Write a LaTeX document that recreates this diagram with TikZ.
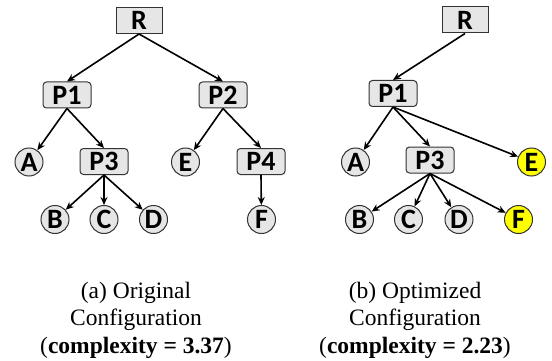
\documentclass[tikz,border=0pt]{standalone}
\usepackage{fontspec}
\setmainfont{Liberation Serif}
\newfontfamily\nodefont{Carlito}
\usetikzlibrary{arrows.meta}
\definecolor{nodegray}{HTML}{E6E6E6}
\definecolor{hiyellow}{HTML}{FFFF00}
\tikzset{
  rootbox/.style={draw=black!80, line width=1pt, fill=nodegray, minimum width=46pt, minimum height=26pt, inner sep=0pt, font=\nodefont\bfseries\fontsize{28}{28}\selectfont},
  pbox/.style={rootbox, rounded corners=3.5pt, minimum width=48pt},
  leaf/.style={circle, draw=black!80, line width=1pt, fill=nodegray, minimum size=28pt, inner sep=0pt, font=\nodefont\bfseries\fontsize{28}{28}\selectfont},
  hileaf/.style={leaf, fill=hiyellow},
  arr/.style={-{Stealth[length=8pt,width=7pt]}, line width=1.6pt},
  captext/.style={align=center, font=\fontsize{23.5}{27.5}\selectfont}
}
\begin{document}
\begin{tikzpicture}[x=1pt,y=-1pt]
\path[use as bounding box] (0,0) rectangle (552,361);
% left tree
\node[rootbox] (R) at (139,20.5) {R};
\node[pbox] (P1) at (67,95) {P1};
\node[pbox] (P2) at (223,95) {P2};
\node[leaf] (A) at (29,162) {A};
\node[pbox] (P3) at (104,161.5) {P3};
\node[leaf] (E) at (185.5,162) {E};
\node[pbox] (P4) at (261,161.5) {P4};
\node[leaf] (B) at (55,219.5) {B};
\node[leaf] (C) at (104,219.5) {C};
\node[leaf] (D) at (153.5,219.5) {D};
\node[leaf] (F) at (261.5,219.5) {F};
\draw[arr] (R.south) -- (P1.north);
\draw[arr] (R.south) -- (P2.north);
\draw[arr] (P1.south) -- (A);
\draw[arr] (P1.south) -- (P3.north);
\draw[arr] (P2.south) -- (E);
\draw[arr] (P2.south) -- (P4.north);
\draw[arr] (P3.south) -- (B);
\draw[arr] (P3.south) -- (C);
\draw[arr] (P3.south) -- (D);
\draw[arr] (P4.south) -- (F);
% right tree
\node[rootbox] (R2) at (465,20) {R};
\node[pbox] (Q1) at (393,93.5) {P1};
\node[leaf] (A2) at (355.5,162) {A};
\node[pbox] (Q3) at (430,160) {P3};
\node[hileaf] (E2) at (531.5,162) {E};
\node[leaf] (B2) at (359.5,219.5) {B};
\node[leaf] (C2) at (408.5,219.5) {C};
\node[leaf] (D2) at (459,219.5) {D};
\node[hileaf] (F2) at (518.5,219.5) {F};
\draw[arr] (R2.south) -- (Q1.north);
\draw[arr] (Q1.south) -- (A2);
\draw[arr] (Q1.south) -- (Q3.north);
\draw[arr] (Q1.south) -- (E2);
\draw[arr] (Q3.south) -- (B2);
\draw[arr] (Q3.south) -- (C2);
\draw[arr] (Q3.south) -- (D2);
\draw[arr] (Q3.south) -- (F2);
% captions
\node[captext] (capa) at (136,320) {(a) Original\\Configuration\\(\textbf{complexity = 3.37})};
\node[captext] (capb) at (415,320) {(b) Optimized\\Configuration\\(\textbf{complexity = 2.23})};
\end{tikzpicture}
\end{document}
